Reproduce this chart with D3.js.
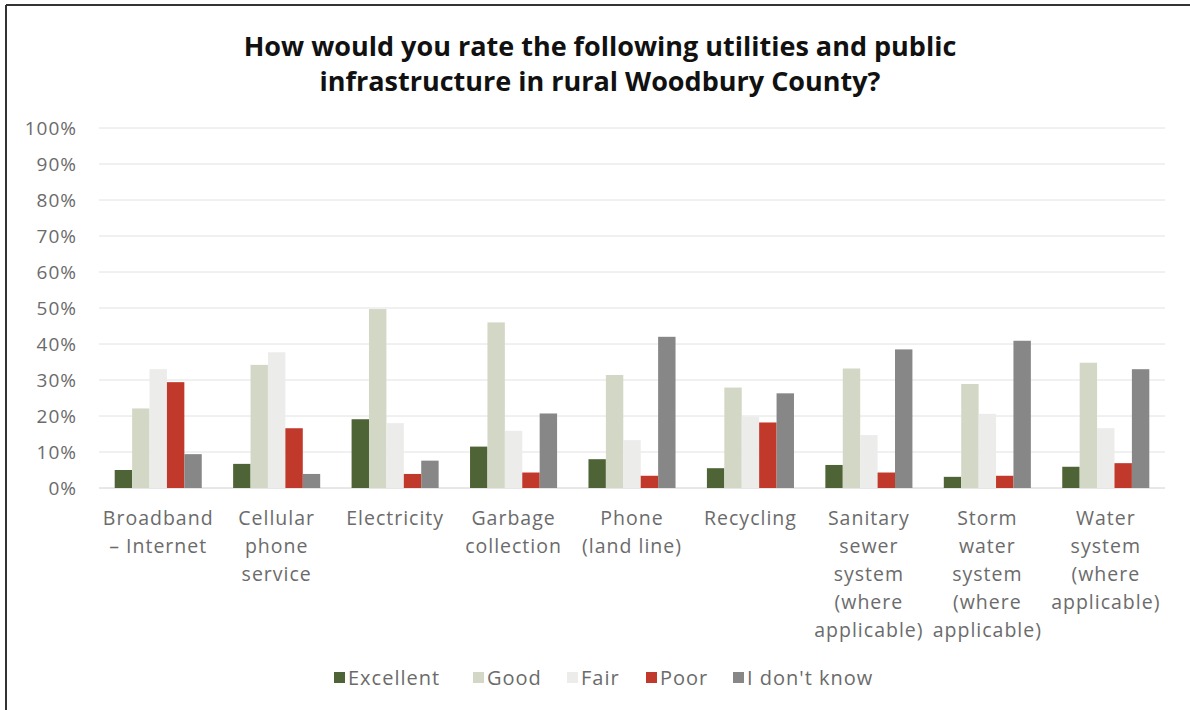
<!DOCTYPE html>
<html><head><meta charset="utf-8">
<script src="https://cdn.jsdelivr.net/npm/d3@7"></script>
<style>body{margin:0;background:#fff}svg{display:block}</style>
</head><body><svg id="c" width="1190" height="710"></svg>
<script>
const categories = ["Broadband – Internet","Cellular phone service","Electricity","Garbage collection","Phone (land line)","Recycling","Sanitary sewer system (where applicable)","Storm water system (where applicable)","Water system (where applicable)"];
const categoryLines = [["Broadband","– Internet"],["Cellular","phone","service"],["Electricity"],["Garbage","collection"],["Phone","(land line)"],["Recycling"],["Sanitary","sewer","system","(where","applicable)"],["Storm","water","system","(where","applicable)"],["Water","system","(where","applicable)"]];
const seriesNames = ["Excellent","Good","Fair","Poor","I don't know"];
const excellent = [5.0, 6.7, 19.1, 11.5, 8.0, 5.5, 6.4, 3.1, 5.9];
const good      = [22.1, 34.2, 49.7, 46.0, 31.4, 27.9, 33.2, 28.9, 34.8];
const fair      = [33.0, 37.7, 18.0, 15.9, 13.3, 19.8, 14.7, 20.6, 16.6];
const poor      = [29.4, 16.6, 3.9, 4.3, 3.4, 18.2, 4.3, 3.4, 6.9];
const dontKnow  = [9.4, 3.9, 7.6, 20.7, 42.0, 26.3, 38.5, 40.9, 33.0];
const yTicks = [0,10,20,30,40,50,60,70,80,90,100];
const colors = ["#4f6436","#d3d8c6","#ececea","#c0392a","#878787"];
const title = ["How would you rate the following utilities and public","infrastructure in rural Woodbury County?"];

const series = [excellent, good, fair, poor, dontKnow];
const svg = d3.select("#c");
const font = "'Open Sans', sans-serif";

// frame
svg.append("line").attr("x1",6).attr("x2",1190).attr("y1",5).attr("y2",5).attr("stroke","#333").attr("stroke-width",2);
svg.append("line").attr("x1",6).attr("x2",6).attr("y1",5).attr("y2",710).attr("stroke","#333").attr("stroke-width",2);

const x0 = d3.scaleBand().domain(categories).range([99,1165]).paddingInner(0.265).paddingOuter(0.1325);
const x1 = d3.scaleBand().domain(seriesNames).range([0,x0.bandwidth()]);
const y = d3.scaleLinear().domain([0,100]).range([488,128]);

// gridlines
svg.append("g").selectAll("line").data(yTicks).join("line")
  .attr("x1",99).attr("x2",1165).attr("y1",d=>y(d)).attr("y2",d=>y(d))
  .attr("stroke",d=>d===0?"#d0d0d0":"#e2e2e2").attr("stroke-width",1);

// y axis
const yAxis = d3.axisLeft(y).tickValues(yTicks).tickFormat(d=>d+"%").tickSize(0).tickPadding(0);
const yg = svg.append("g").attr("transform","translate(77,0)").call(yAxis);
yg.select(".domain").remove();
yg.selectAll("text").attr("font-family",font).attr("font-size",19).attr("letter-spacing","1px").attr("fill","#6b6b6b");

// bars
const groups = svg.append("g").selectAll("g").data(categories).join("g")
  .attr("transform",d=>`translate(${x0(d)},0)`);
groups.selectAll("rect").data((d,i)=>seriesNames.map((s,j)=>({s,v:series[j][i],j}))).join("rect")
  .attr("x",d=>x1(d.s)).attr("width",x1.bandwidth())
  .attr("y",d=>y(d.v)).attr("height",d=>y(0)-y(d.v))
  .attr("fill",d=>colors[d.j]);

// x axis labels
const xAxis = d3.axisBottom(x0).tickSize(0).tickFormat("");
const xg = svg.append("g").attr("transform","translate(0,488)").call(xAxis);
xg.select(".domain").remove();
xg.selectAll(".tick").each(function(d,i){
  const t = d3.select(this).append("text").attr("text-anchor","middle")
    .attr("font-family",font).attr("font-size",19.5).attr("letter-spacing","1px").attr("fill","#6b6b6b");
  categoryLines[i].forEach((l,k)=>t.append("tspan").attr("x",0).attr("y",37+k*28).text(l));
});

// title
svg.append("g").selectAll("text").data(title).join("text")
  .attr("x",600).attr("y",(d,i)=>56+i*35).attr("text-anchor","middle")
  .attr("font-family",font).attr("font-weight","bold").attr("font-size",27).attr("fill","#111").text(d=>d);

// legend
const legX = [334,473,567,646,733];
const lg = svg.append("g").selectAll("g").data(seriesNames).join("g")
  .attr("transform",(d,i)=>`translate(${legX[i]},678)`);
lg.append("rect").attr("x",0).attr("y",-6).attr("width",11).attr("height",11).attr("fill",(d,i)=>colors[i]);
lg.append("text").attr("x",14).attr("y",7).attr("font-family",font).attr("font-size",20).attr("letter-spacing","1px").attr("fill","#6b6b6b").text(d=>d);
</script></body></html>
